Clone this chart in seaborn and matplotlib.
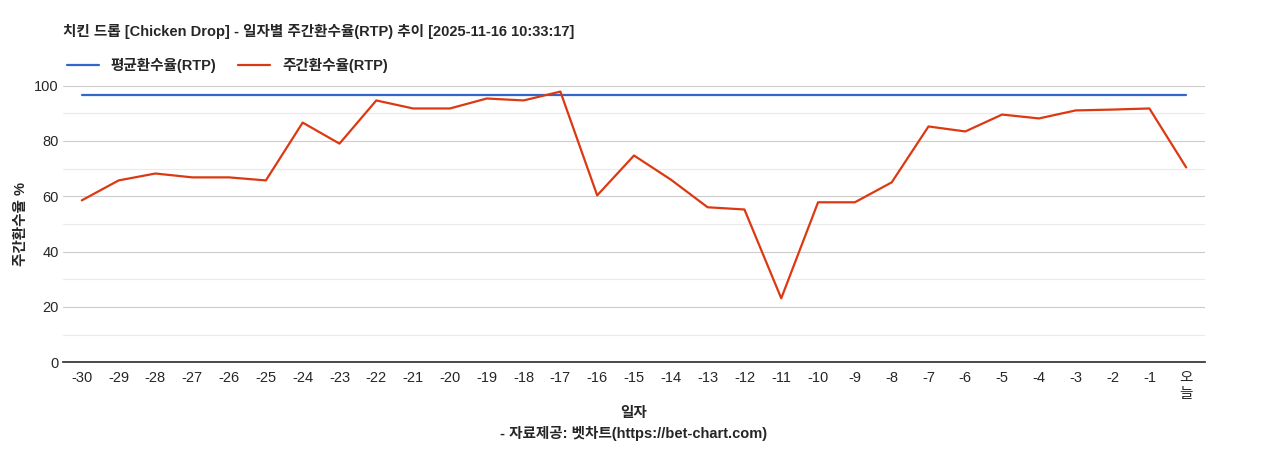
import pandas as pd
import seaborn as sns
import matplotlib.pyplot as plt

days = [str(d) for d in range(-30, 0)] + ["오\n늘"]
weekly_rtp = [58.5, 65.7, 68.2, 66.8, 66.8, 65.7, 86.6, 79.0, 94.6, 91.7,
              91.7, 95.3, 94.6, 97.8, 60.3, 74.7, 66.0, 56.0, 55.2, 23.1,
              57.8, 57.8, 65.0, 85.2, 83.4, 89.5, 88.1, 91.0, 91.3, 91.7, 70.4]
avg_rtp = 96.4

sns.set_theme(style="white")
plt.rcParams['font.family'] = ['Liberation Sans', 'Noto Sans CJK KR']

df = pd.DataFrame({"pos": range(len(days)), "주간환수율(RTP)": weekly_rtp,
                   "평균환수율(RTP)": [avg_rtp] * len(days)})
dfm = df.melt("pos", var_name="series", value_name="rtp")

fig, ax = plt.subplots(figsize=(12.68, 4.5), dpi=100)
fig.subplots_adjust(left=0.05, right=0.95, top=0.81, bottom=0.195)

for y in range(10, 101, 10):
    ax.axhline(y, color="#cccccc" if y % 20 == 0 else "#ebebeb", lw=0.8, zorder=0)

sns.lineplot(data=dfm, x="pos", y="rtp", hue="series",
             hue_order=["평균환수율(RTP)", "주간환수율(RTP)"],
             palette=["#3366cc", "#dc3912"], linewidth=1.6, ax=ax)

ax.set_xlim(-0.5, len(days) - 0.5)
ax.set_ylim(0, 100)
ax.set_yticks(range(0, 101, 20))
ax.set_xticks(range(len(days)))
ax.set_xticklabels(days, fontsize=10.5)
ax.tick_params(axis="y", labelsize=10.5, length=0)
ax.tick_params(axis="x", length=0, pad=6)
for s in ["top", "right", "left"]:
    ax.spines[s].set_visible(False)
ax.spines["bottom"].set_color("#333333")

ax.set_ylabel("주간환수율 %", fontsize=10.5, fontweight="bold")
ax.set_xlabel("일자\n- 자료제공: 벳차트(https://bet-chart.com)",
              fontsize=10.5, fontweight="bold", linespacing=1.5)

ax.legend(loc="lower left", bbox_to_anchor=(-0.002, 1.025), ncol=2, frameon=False,
          handlelength=2.2, columnspacing=1.5, borderaxespad=0,
          prop={"weight": "bold", "size": 10.5})
fig.text(0.05, 0.92, "치킨 드롭 [Chicken Drop] - 일자별 주간환수율(RTP) 추이 [2025-11-16 10:33:17]",
         fontsize=10.5, fontweight="bold")

plt.savefig("out.png", dpi=100)
